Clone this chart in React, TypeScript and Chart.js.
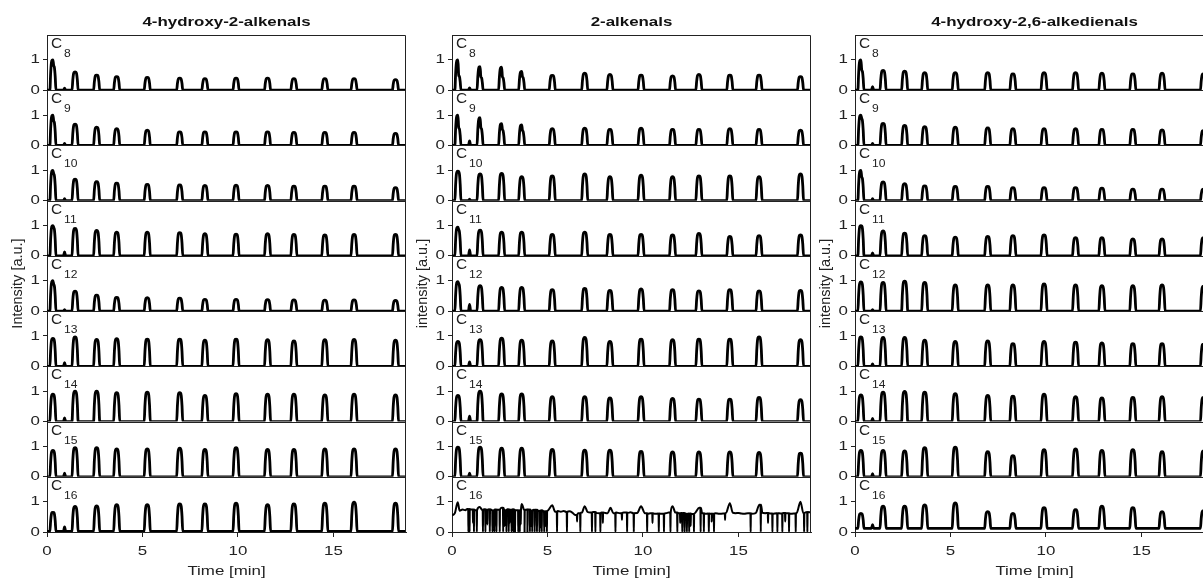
import React, { useEffect, useRef } from 'react';
import { Chart, registerables } from 'chart.js';

Chart.register(...registerables);

const FONT = "'Liberation Sans', Arial, Helvetica, sans-serif";
const TEXT_STRETCH = 1.3;   // the source figure's lettering is horizontally widened
const LABEL_STRETCH = 1.1;

// ---------- text ----------
const columnTitles = ['4-hydroxy-2-alkenals', '2-alkenals', '4-hydroxy-2,6-alkedienals'];
const yAxisTitles = ['Intensity [a.u.]', 'intensity [a.u.]', 'intensity [a.u.]'];
const carbonNumbers = ['8', '9', '10', '11', '12', '13', '14', '15', '16'];
const xAxisTitle = 'Time [min]';

// ---------- axes ----------
const xTickValues = [0, 5, 10, 15];
const yTickValues = [0, 1];
const timeMax = 18.8;
const intensityMax = 1.82;

// ---------- peak positions (min) ----------
const peakTimes = [0.31, 1.47, 2.6, 3.65, 5.25, 6.95, 8.27, 9.9, 11.55, 12.93, 14.55, 16.08, 18.25];
const bumpTime = 0.92;

// peak template (offset in min, fraction of apex)
const peakShapeOffsets = [-0.16, -0.12, -0.08, -0.04, 0, 0.04, 0.08, 0.12, 0.16];
const peakShapeLevels = [0, 0.55, 0.9, 0.99, 1, 0.99, 0.9, 0.55, 0];

// ---------- 4-hydroxy-2-alkenals (rows C8..C16) ----------
const hydroxyAlkenalHeights = [
  [1.0, 0.6, 0.5, 0.45, 0.42, 0.4, 0.38, 0.4, 0.4, 0.38, 0.38, 0.38, 0.35],
  [1.0, 0.7, 0.6, 0.55, 0.5, 0.45, 0.45, 0.45, 0.45, 0.43, 0.43, 0.43, 0.4],
  [1.0, 0.71, 0.63, 0.58, 0.54, 0.52, 0.5, 0.51, 0.5, 0.48, 0.48, 0.48, 0.43],
  [1.0, 0.91, 0.84, 0.78, 0.78, 0.77, 0.73, 0.72, 0.73, 0.71, 0.69, 0.71, 0.71],
  [1.0, 0.66, 0.53, 0.45, 0.44, 0.43, 0.39, 0.39, 0.38, 0.37, 0.36, 0.37, 0.35],
  [0.92, 0.97, 0.89, 0.91, 0.9, 0.9, 0.86, 0.9, 0.88, 0.84, 0.88, 0.89, 0.86],
  [0.9, 1.0, 1.0, 0.95, 0.97, 0.95, 0.86, 0.92, 0.9, 0.9, 0.88, 0.9, 0.88],
  [0.87, 0.96, 0.96, 0.92, 0.92, 0.94, 0.9, 0.96, 0.9, 0.9, 0.92, 0.92, 0.92],
  [0.65, 0.84, 0.86, 0.9, 0.9, 0.93, 0.93, 0.95, 0.9, 0.93, 0.95, 0.98, 0.95],
];
const hydroxyAlkenalBumps = [0.07, 0.07, 0.07, 0.13, 0.05, 0.12, 0.12, 0.12, 0.15];
const hydroxyAlkenalBaselines = [0, 0, 0, 0, 0, 0, 0, 0, 0.02];
// [row, peak, shoulder height]
const hydroxyAlkenalShoulders = [[0, 0, 0.82], [1, 0, 0.82], [2, 0, 0.9], [3, 0, 0.95], [4, 0, 0.9]];

// ---------- 2-alkenals (rows C8..C15; C16 is a noisy trace) ----------
const alkenalHeights = [
  [1.0, 0.78, 0.76, 0.62, 0.49, 0.56, 0.52, 0.5, 0.47, 0.52, 0.5, 0.5, 0.45],
  [1.0, 0.92, 0.72, 0.68, 0.55, 0.57, 0.53, 0.57, 0.53, 0.53, 0.55, 0.53, 0.5],
  [0.97, 0.88, 0.9, 0.79, 0.82, 0.88, 0.79, 0.84, 0.79, 0.82, 0.82, 0.79, 0.88],
  [0.95, 0.85, 0.78, 0.78, 0.71, 0.78, 0.71, 0.71, 0.69, 0.74, 0.64, 0.67, 0.69],
  [0.97, 0.84, 0.78, 0.78, 0.71, 0.75, 0.68, 0.73, 0.71, 0.67, 0.71, 0.67, 0.68],
  [0.82, 0.88, 0.93, 0.86, 0.84, 0.95, 0.82, 0.9, 0.88, 0.9, 0.9, 0.97, 0.88],
  [0.86, 1.0, 0.91, 0.91, 0.82, 0.82, 0.78, 0.82, 0.76, 0.74, 0.74, 0.8, 0.72],
  [0.98, 0.98, 0.94, 0.94, 0.9, 0.88, 0.88, 0.84, 0.82, 0.82, 0.82, 0.8, 0.78],
];
const alkenalBumps = [0.08, 0.15, 0.05, 0.2, 0.22, 0.15, 0.18, 0.12];
const alkenalShoulders = [
  [0, 0, 0.5], [0, 1, 0.45], [0, 2, 0.45], [0, 3, 0.45],
  [1, 0, 0.6], [1, 1, 0.6], [1, 2, 0.53], [1, 3, 0.5],
  [3, 0, 0.88], [4, 0, 0.92],
];
// C16 2-alkenals: noisy signal [time, level], dropouts (time) and partial dips [time, level]
const alkenalC16Signal = [
  [0, 0.55], [0.15, 0.62], [0.3, 0.98], [0.4, 0.7], [0.55, 0.74], [0.7, 0.72], [0.8, 0.76], [1.0, 0.74],
  [1.2, 0.72], [1.45, 0.82], [1.6, 0.72], [1.7, 0.75], [1.8, 0.73], [1.95, 0.75], [2.1, 0.72], [2.25, 0.74],
  [2.4, 0.73], [2.6, 0.8], [2.75, 0.72], [2.9, 0.75], [3.0, 0.73], [3.2, 0.75], [3.3, 0.72], [3.65, 0.92],
  [3.8, 0.72], [3.95, 0.74], [4.1, 0.71], [4.3, 0.73], [4.5, 0.7], [4.65, 0.72], [4.8, 0.68], [5.0, 0.7],
  [5.25, 0.88], [5.4, 0.67], [5.55, 0.69], [5.7, 0.67], [5.85, 0.69], [6.0, 0.66], [6.15, 0.68],
  [6.3, 0.64], [6.45, 0.56], [6.6, 0.62], [6.8, 0.64], [6.95, 0.85], [7.1, 0.66], [7.25, 0.64],
  [7.4, 0.66], [7.55, 0.63], [7.7, 0.62], [7.85, 0.64], [8.0, 0.63], [8.15, 0.62], [8.3, 0.8],
  [8.45, 0.62], [8.6, 0.64], [8.8, 0.62], [9.0, 0.64], [9.2, 0.63], [9.35, 0.65], [9.5, 0.62],
  [9.7, 0.63], [9.9, 0.85], [10.1, 0.62], [10.25, 0.6], [10.4, 0.62], [10.6, 0.6], [10.8, 0.61],
  [11.0, 0.6], [11.2, 0.62], [11.35, 0.64], [11.55, 0.85], [11.7, 0.64], [11.85, 0.62], [12.0, 0.63],
  [12.2, 0.6], [12.4, 0.61], [12.55, 0.59], [12.7, 0.61], [12.95, 0.8], [13.1, 0.62], [13.25, 0.6],
  [13.4, 0.61], [13.6, 0.6], [13.8, 0.62], [14.0, 0.6], [14.2, 0.61], [14.35, 0.63], [14.55, 0.95],
  [14.7, 0.64], [14.85, 0.62], [15.0, 0.63], [15.15, 0.61], [15.3, 0.6], [15.5, 0.62], [15.7, 0.6],
  [15.9, 0.62], [16.1, 0.9], [16.25, 0.64], [16.4, 0.62], [16.5, 0.63], [16.65, 0.61], [16.8, 0.6],
  [17.0, 0.62], [17.2, 0.61], [17.35, 0.63], [17.5, 0.62], [17.7, 0.6], [17.9, 0.61], [18.05, 0.63],
  [18.25, 1.0], [18.4, 0.62], [18.6, 0.66], [18.8, 0.65],
];
const alkenalC16Dropouts = [
  0.86, 0.92, 1.15, 1.3, 1.62, 1.75, 1.98, 2.12, 2.22, 2.33, 2.5, 2.68, 2.85, 2.97, 3.12, 3.22,
  3.3, 3.47, 3.55, 3.8, 3.95, 4.08, 4.2, 4.33, 4.45, 4.58, 4.7, 4.83, 4.97, 5.5, 6.02, 6.72,
  7.33, 7.51, 7.77, 8.56, 9.17, 9.52, 10.22, 10.83, 11.1, 11.44, 11.8, 12.06, 12.18, 12.3, 12.42,
  12.67, 13.02, 13.19, 13.45, 13.72, 15.64, 16.17, 16.78, 17.04, 17.3, 17.65, 18.0, 18.44, 18.61,
];
const alkenalC16Dips = [
  [1.1, 0.3], [1.85, 0.25], [2.18, 0.35], [2.75, 0.2], [3.02, 0.3], [3.6, 0.25], [4.14, 0.2],
  [4.64, 0.15], [4.9, 0.2], [6.55, 0.35], [7.9, 0.3], [8.9, 0.4], [10.5, 0.3], [11.95, 0.3],
  [12.5, 0.2], [13.6, 0.35], [14.3, 0.4], [16.55, 0.3], [17.45, 0.35],
];

// ---------- 4-hydroxy-2,6-alkedienals (rows C8..C16) ----------
const hydroxyAlkedienalHeights = [
  [1.0, 0.65, 0.63, 0.58, 0.58, 0.58, 0.54, 0.58, 0.58, 0.56, 0.54, 0.56, 0.54],
  [1.0, 0.73, 0.66, 0.62, 0.6, 0.58, 0.55, 0.55, 0.55, 0.53, 0.53, 0.51, 0.49],
  [1.0, 0.62, 0.56, 0.49, 0.47, 0.47, 0.43, 0.43, 0.43, 0.41, 0.38, 0.38, 0.38],
  [1.0, 0.82, 0.75, 0.67, 0.62, 0.64, 0.67, 0.69, 0.6, 0.6, 0.56, 0.56, 0.6],
  [0.96, 0.95, 0.99, 0.95, 0.86, 0.86, 0.86, 0.9, 0.86, 0.84, 0.84, 0.86, 0.82],
  [0.97, 0.95, 0.95, 0.86, 0.82, 0.84, 0.75, 0.82, 0.8, 0.77, 0.75, 0.75, 0.73],
  [0.88, 0.97, 0.99, 0.97, 0.92, 0.86, 0.84, 0.9, 0.82, 0.78, 0.8, 0.82, 0.8],
  [0.87, 0.87, 0.85, 0.96, 0.98, 0.83, 0.7, 0.89, 0.92, 0.87, 0.89, 0.83, 0.85],
  [0.61, 0.85, 0.85, 0.89, 0.96, 0.67, 0.61, 0.8, 0.74, 0.85, 0.8, 0.67, 0.7],
];
const hydroxyAlkedienalBumps = [0.12, 0.07, 0.07, 0.1, 0.05, 0.08, 0.1, 0.1, 0.12];
const hydroxyAlkedienalBaselines = [0, 0, 0, 0, 0, 0, 0, 0, 0.12];
const hydroxyAlkedienalShoulders = [[0, 0, 0.68], [1, 0, 0.9], [2, 0, 0.8]];

type Pt = { x: number; y: number };

function buildPeakTrace(heights: number[], shoulders: number[][], row: number, bump: number, base: number): Pt[] {
  const pts: Pt[] = [{ x: 0, y: base }];
  pts.push({ x: bumpTime - 0.06, y: base }, { x: bumpTime, y: base + bump }, { x: bumpTime + 0.06, y: base });
  peakTimes.forEach((t, i) => {
    const h = heights[i];
    const sh = shoulders.find((s) => s[0] === row && s[1] === i);
    const s = sh ? sh[2] : h;
    peakShapeOffsets.forEach((o, k) => {
      const top = o <= 0 ? h : s;
      pts.push({ x: t + o, y: base + peakShapeLevels[k] * (top - base) });
    });
  });
  pts.push({ x: timeMax, y: base });
  pts.sort((a, b) => a.x - b.x);
  return pts;
}

function levelAt(signal: number[][], t: number): number {
  let level = signal[0][1];
  for (const [sx, sy] of signal) if (sx <= t) level = sy;
  return level;
}

function buildNoisyTrace(signal: number[][], dropouts: number[], dips: number[][]): Pt[] {
  const pts: Pt[] = signal.map(([x, y]) => ({ x, y }));
  dropouts.forEach((t) => {
    const level = levelAt(signal, t);
    pts.push({ x: t - 0.012, y: level }, { x: t, y: 0 }, { x: t + 0.012, y: level });
  });
  dips.forEach(([t, v]) => {
    const level = levelAt(signal, t);
    pts.push({ x: t - 0.012, y: level }, { x: t, y: v }, { x: t + 0.012, y: level });
  });
  pts.sort((a, b) => a.x - b.x);
  return pts;
}

function columnTraces(col: number): Pt[][] {
  if (col === 0) {
    return hydroxyAlkenalHeights.map((h, r) =>
      buildPeakTrace(h, hydroxyAlkenalShoulders, r, hydroxyAlkenalBumps[r], hydroxyAlkenalBaselines[r]));
  }
  if (col === 1) {
    const rows = alkenalHeights.map((h, r) => buildPeakTrace(h, alkenalShoulders, r, alkenalBumps[r], 0));
    rows.push(buildNoisyTrace(alkenalC16Signal, alkenalC16Dropouts, alkenalC16Dips));
    return rows;
  }
  return hydroxyAlkedienalHeights.map((h, r) =>
    buildPeakTrace(h, hydroxyAlkedienalShoulders, r, hydroxyAlkedienalBumps[r], hydroxyAlkedienalBaselines[r]));
}

const TEXT = '#222';

// widen horizontal lettering about its anchor (rotated text is left as is)
function installTextStretch(ctx: any) {
  if (ctx.__stretchInstalled) return;
  const orig = ctx.fillText.bind(ctx);
  ctx.__stretchX = TEXT_STRETCH;
  ctx.fillText = (text: string, x: number, y: number, maxWidth?: number) => {
    const sx = ctx.__stretchX;
    const M = ctx.getTransform();
    if (sx === 1 || Math.abs(M.b) > 1e-6 || Math.abs(M.c) > 1e-6) {
      if (maxWidth === undefined) orig(text, x, y); else orig(text, x, y, maxWidth);
      return;
    }
    const p = M.transformPoint(new DOMPoint(x, y));
    const N = new DOMMatrix().translate(p.x, p.y).scale(sx, 1).translate(-p.x, -p.y).multiply(M);
    ctx.setTransform(N);
    if (maxWidth === undefined) orig(text, x, y); else orig(text, x, y, maxWidth);
    ctx.setTransform(M);
  };
  ctx.__stretchInstalled = true;
}

const stretchPlugin = {
  id: 'stretchText',
  beforeDraw(chart: any) {
    installTextStretch(chart.ctx);
    chart.ctx.__stretchX = TEXT_STRETCH;
  },
};

const panelPlugin = {
  id: 'panels',
  afterDatasetsDraw(chart: any) {
    const { ctx, chartArea } = chart;
    const L = Math.round(chartArea.left) + 0.5;
    const R = Math.round(chartArea.right) - 0.5;
    ctx.save();
    ctx.strokeStyle = TEXT;
    ctx.lineWidth = 1;
    ctx.beginPath();
    ctx.moveTo(L, Math.round(chartArea.top) + 0.5);
    ctx.lineTo(R, Math.round(chartArea.top) + 0.5);
    ctx.lineTo(R, Math.round(chartArea.bottom) + 0.5);
    ctx.stroke();
    const prevStretch = ctx.__stretchX;
    ctx.__stretchX = LABEL_STRETCH;
    carbonNumbers.forEach((num, r) => {
      const s = chart.scales['y' + r];
      const yb = Math.round(s.bottom) + 0.5;
      ctx.beginPath();
      ctx.moveTo(L, yb);
      ctx.lineTo(R, yb);
      ctx.stroke();
      ctx.fillStyle = TEXT;
      ctx.textBaseline = 'alphabetic';
      ctx.textAlign = 'left';
      ctx.font = `14px ${FONT}`;
      const cx = chartArea.left + 4;
      ctx.fillText('C', cx, s.top + 13);
      const w = ctx.measureText('C').width * LABEL_STRETCH;
      ctx.font = `11px ${FONT}`;
      ctx.fillText(num, cx + w + 2, s.top + 22);
    });
    ctx.__stretchX = prevStretch;
    ctx.restore();
  },
};

function makeConfig(col: number): any {
  const traces = columnTraces(col);
  const scales: any = {};
  // define panels bottom-first so that C8 ends up at the top of the stack
  for (let r = carbonNumbers.length - 1; r >= 0; r--) {
    scales['y' + r] = {
      type: 'linear',
      position: 'left',
      stack: 'panels',
      stackWeight: 1,
      weight: carbonNumbers.length - 1 - r,
      min: 0,
      max: intensityMax,
      afterBuildTicks: (s: any) => { s.ticks = yTickValues.map((v) => ({ value: v })); },
      afterFit: (s: any) => { s.width = 47; },
      ticks: { font: { size: 13, family: FONT }, color: TEXT, padding: 3 },
      grid: { drawOnChartArea: false, drawTicks: true, tickLength: 4, color: TEXT },
      border: { display: true, color: TEXT, width: 1 },
      title: r === 4
        ? { display: true, text: yAxisTitles[col], font: { size: 14.5, family: FONT }, color: TEXT, padding: { top: 9, bottom: 0 } }
        : { display: false },
    };
  }
  scales.x = {
    type: 'linear',
    position: 'bottom',
    min: 0,
    max: timeMax,
    afterBuildTicks: (s: any) => { s.ticks = xTickValues.map((v) => ({ value: v })); },
    afterFit: (s: any) => { s.height = 51; },
    ticks: { font: { size: 13, family: FONT }, color: TEXT, padding: 7 },
    grid: { drawOnChartArea: false, drawTicks: true, tickLength: 5, color: TEXT },
    border: { display: true, color: TEXT, width: 1 },
    title: { display: true, text: xAxisTitle, font: { size: 13, family: FONT }, color: TEXT, padding: { top: 0, bottom: 4 } },
  };
  return {
    type: 'line',
    data: {
      datasets: traces.map((data, r) => ({
        label: 'C' + carbonNumbers[r],
        data,
        xAxisID: 'x',
        yAxisID: 'y' + r,
        borderColor: '#000',
        borderWidth: col === 1 && r === 8 ? 2 : 2.8,
        pointRadius: 0,
        fill: false,
        cubicInterpolationMode: 'monotone',
        borderJoinStyle: 'round',
      })),
    },
    options: {
      responsive: false,
      animation: false,
      events: [],
      layout: { padding: { left: 0, right: 14, top: 0, bottom: 0 } },
      scales,
      plugins: {
        legend: { display: false },
        tooltip: { enabled: false },
        title: {
          display: true,
          text: columnTitles[col],
          fullSize: false,
          color: '#111',
          font: { size: 13, weight: 'bold', family: FONT },
          padding: { top: 14.7, bottom: 4.7 },
        },
      },
    },
    plugins: [stretchPlugin, panelPlugin],
  };
}

const canvasLefts = [0, 405, 808];

export default function App() {
  const refs = [useRef<HTMLCanvasElement>(null), useRef<HTMLCanvasElement>(null), useRef<HTMLCanvasElement>(null)];
  useEffect(() => {
    const charts = refs.map((r, col) => new Chart(r.current as HTMLCanvasElement, makeConfig(col)));
    return () => charts.forEach((c) => c.destroy());
  }, []);
  return (
    <div style={{ position: 'fixed', left: 0, top: 0, width: 1203, height: 583, overflow: 'hidden', background: '#fff' }}>
      {refs.map((r, i) => (
        <canvas
          key={i}
          ref={r}
          width={420}
          height={583}
          style={{ position: 'absolute', left: canvasLefts[i], top: 0, width: 420, height: 583 }}
        />
      ))}
    </div>
  );
}
